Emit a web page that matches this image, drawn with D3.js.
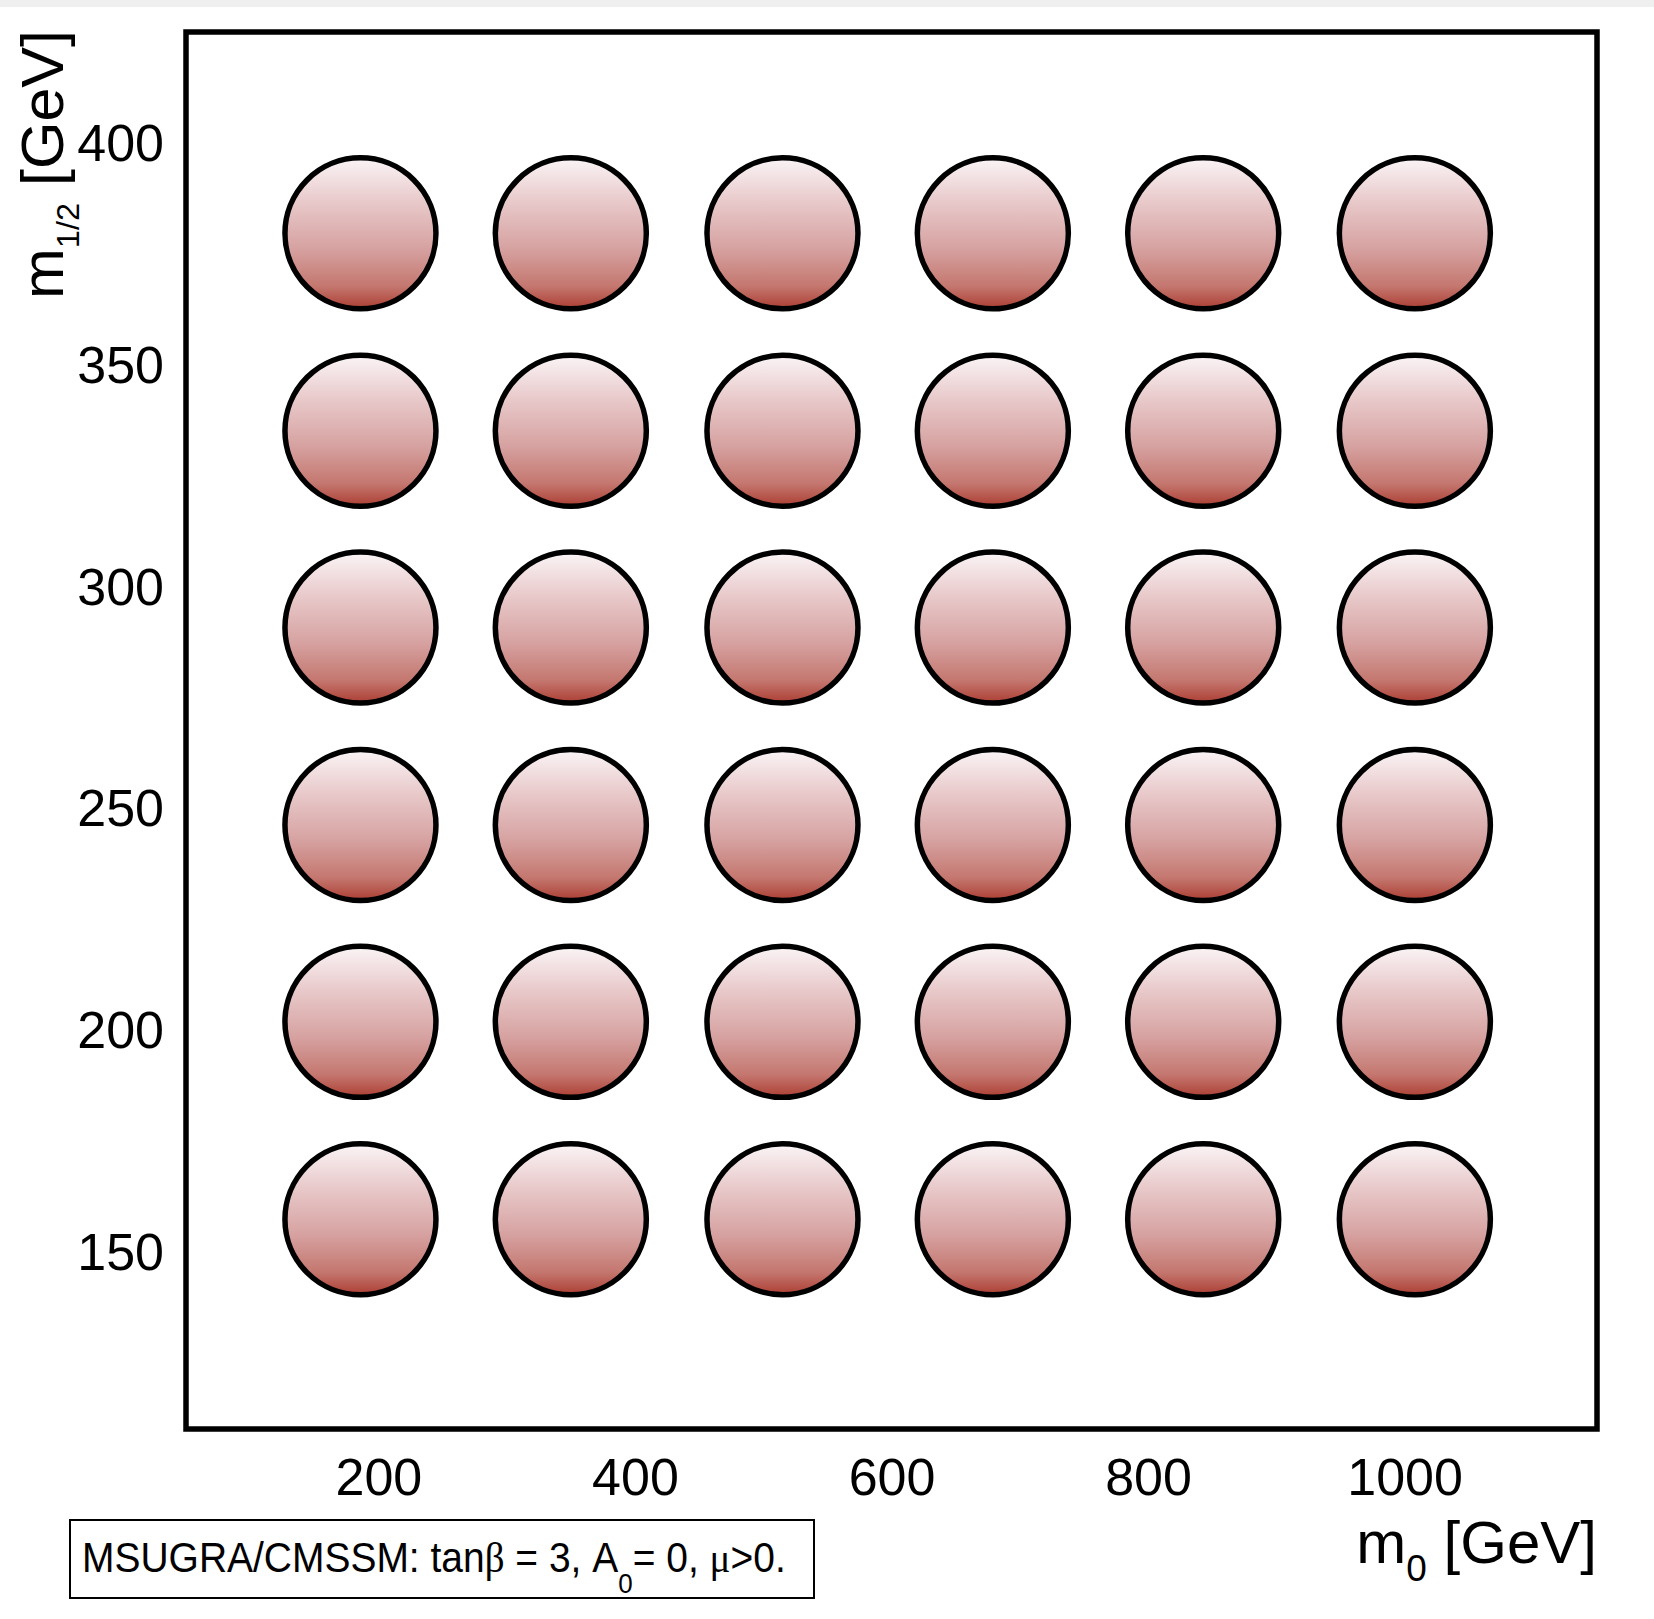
<!DOCTYPE html>
<html>
<head>
<meta charset="utf-8">
<script src="https://cdn.jsdelivr.net/npm/d3@7"></script>
<style>
  html, body { margin: 0; padding: 0; background: #ffffff; }
  svg { display: block; }
  text { font-family: "Liberation Sans", Arial, Helvetica, sans-serif; fill: #000; }
</style>
</head>
<body>
<script>
// Scan grid of the mSUGRA / CMSSM parameter plane
const m0Ticks = [200, 400, 600, 800, 1000];
const m12Ticks = [150, 200, 250, 300, 350, 400];
const m0Points = [186, 350, 515, 679, 843, 1008];
const m12Points = [379.6, 335.1, 290.7, 246.2, 201.8, 157.3];
const m0Range = [50, 1150];
const m12Range = [110, 425];

const W = 1654, H = 1619;
const frame = { left: 186, right: 1597, top: 32, bottom: 1429 };

const svg = d3.select("body").append("svg")
  .attr("width", W).attr("height", H);

svg.append("rect").attr("width", W).attr("height", H).attr("fill", "#ffffff");
svg.append("rect").attr("width", W).attr("height", 7).attr("fill", "#efefef");

const x = d3.scaleLinear().domain(m0Range).range([frame.left, frame.right]);
const y = d3.scaleLinear().domain(m12Range).range([frame.bottom, frame.top]);

// vertical shading used for every grid point
const defs = svg.append("defs");
const grad = defs.append("linearGradient")
  .attr("id", "pointShade")
  .attr("x1", 0).attr("y1", 0).attr("x2", 0).attr("y2", 1);
[
  [0, "#faf4f6"],
  [0.3, "#e8c8c9"],
  [0.6, "#d6a2a1"],
  [0.85, "#c4776f"],
  [1, "#ac3e33"]
].forEach(([o, c]) => grad.append("stop").attr("offset", o).attr("stop-color", c));

const grid = d3.cross(m12Points, m0Points, (m12, m0) => ({ m0, m12 }));

svg.append("g").selectAll("circle")
  .data(grid)
  .join("circle")
  .attr("cx", d => x(d.m0))
  .attr("cy", d => y(d.m12))
  .attr("r", 75.5)
  .attr("fill", "url(#pointShade)")
  .attr("stroke", "#000")
  .attr("stroke-width", 5.5);

// plot frame
svg.append("rect")
  .attr("x", x(m0Range[0])).attr("y", y(m12Range[1]))
  .attr("width", x(m0Range[1]) - x(m0Range[0]))
  .attr("height", y(m12Range[0]) - y(m12Range[1]))
  .attr("fill", "none")
  .attr("stroke", "#000")
  .attr("stroke-width", 5.5);

// axes (labels only)
const xAxis = svg.append("g")
  .attr("transform", `translate(0,${frame.bottom})`)
  .call(d3.axisBottom(x).tickValues(m0Ticks).tickSize(0).tickFormat(d3.format("d")));
xAxis.select(".domain").remove();
xAxis.selectAll("text")
  .attr("y", 66).attr("dy", 0)
  .style("font-size", "52px")
  .style("font-family", "'Liberation Sans', Arial, sans-serif");

const yAxis = svg.append("g")
  .attr("transform", `translate(${frame.left},0)`)
  .call(d3.axisLeft(y).tickValues(m12Ticks).tickSize(0).tickFormat(d3.format("d")));
yAxis.select(".domain").remove();
yAxis.selectAll("text")
  .attr("x", -22).attr("dy", "0.34em")
  .style("font-size", "52px")
  .style("font-family", "'Liberation Sans', Arial, sans-serif");

// horizontal scale factor that brings a text element to a given length
function fitText(sel, target) {
  const w = sel.node().getBBox().width;
  return target / w;
}

// x axis title
const xTitle = svg.append("text")
  .attr("x", 1597).attr("y", 1563)
  .attr("text-anchor", "end")
  .style("font-size", "60px");
xTitle.append("tspan").text("m");
xTitle.append("tspan").attr("dy", 18).style("font-size", "37px").text("0");
xTitle.append("tspan").attr("dy", -18).text(" [GeV]");

// y axis title (rotated)
const yTitleG = svg.append("g").attr("transform", "translate(63,299) rotate(-90)");
const yTitle = yTitleG.append("text")
  .attr("x", 0).attr("y", 0)
  .style("font-size", "60px");
yTitle.append("tspan").text("m");
yTitle.append("tspan").attr("dy", 16).style("font-size", "32px").text("1/2");
yTitle.append("tspan").attr("dy", -16).text(" [GeV]");
const ys = fitText(yTitle, 269);
yTitle.attr("transform", `scale(${ys},1)`);

// parameter box
svg.append("rect")
  .attr("x", 70).attr("y", 1520)
  .attr("width", 744).attr("height", 78)
  .attr("fill", "#fff")
  .attr("stroke", "#000")
  .attr("stroke-width", 2);

const legG = svg.append("g").attr("transform", "translate(82,1572)");
const leg = legG.append("text").style("font-size", "42px");
leg.append("tspan").text("MSUGRA/CMSSM: tan");
leg.append("tspan").style("font-family", "'Liberation Serif', 'DejaVu Serif', serif").text("β");
leg.append("tspan").text(" = 3, A");
leg.append("tspan").attr("dy", 21).style("font-size", "28px").text("0");
leg.append("tspan").attr("dy", -21).text("= 0, ");
leg.append("tspan").style("font-family", "'Liberation Serif', 'DejaVu Serif', serif").text("μ");
leg.append("tspan").text(">0.");
const ls = fitText(leg, 704);
leg.attr("transform", `scale(${ls},1)`);
</script>
</body>
</html>
